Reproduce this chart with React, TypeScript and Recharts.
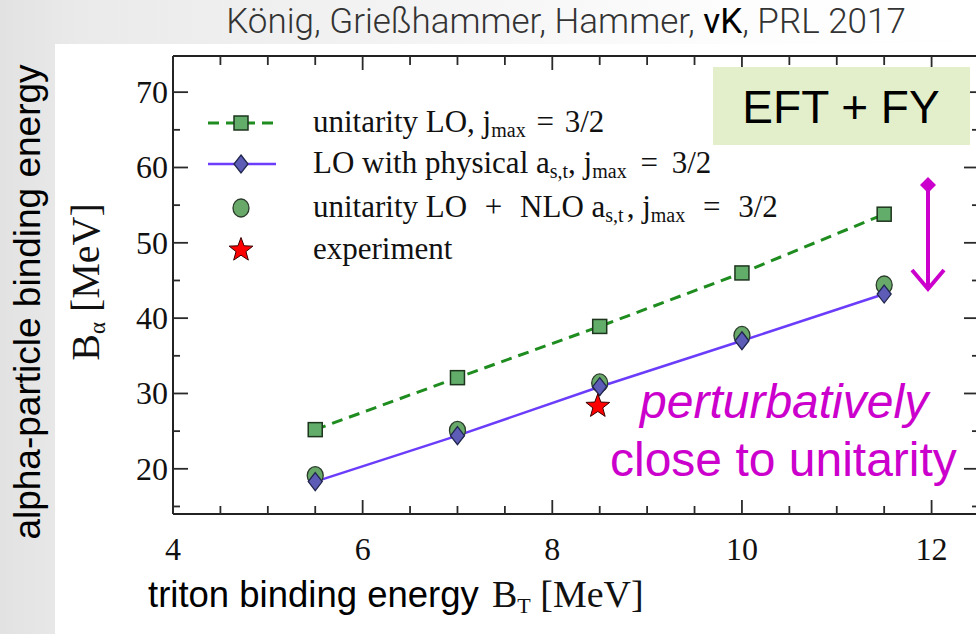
import React from 'react';
import { ComposedChart, Line, XAxis, YAxis } from 'recharts';

// ---- data ----
const tritonEnergies = [5.5, 7, 8.5, 10, 11.5];
const unitarityLO = [25.2, 32.1, 38.9, 46.0, 53.8];
const physicalLO = [18.3, 24.4, 30.9, 37.0, 43.2];
const unitarityNLO = [19.1, 25.1, 31.4, 37.7, 44.4];
const experimentTriton = [8.48];
const experimentAlpha = [28.3];

const xTicks = [4, 4.5, 5, 5.5, 6, 6.5, 7, 7.5, 8, 8.5, 9, 9.5, 10, 10.5, 11, 11.5, 12];
const xMajorTicks = [4, 6, 8, 10, 12];
const yTicks = [15, 20, 25, 30, 35, 40, 45, 50, 55, 60, 65, 70];
const yMajorTicks = [20, 30, 40, 50, 60, 70];

const chartData = tritonEnergies.map((x, i) => ({
  x,
  lo: unitarityLO[i],
  phys: physicalLO[i],
  nlo: unitarityNLO[i],
}));
const starData = experimentTriton.map((x, i) => ({ x, star: experimentAlpha[i] }));

const SERIF = '"Liberation Serif", "Times New Roman", serif';
const SANS = '"Liberation Sans", Arial, sans-serif';
const FRAME = '#222';
const TICK = '#2a2a2a';
const MAGENTA = '#cc00cc';

// ---- marker shapes ----
const starPoints = (cx: number, cy: number, ro: number, ri: number) => {
  const pts: string[] = [];
  for (let k = 0; k < 10; k++) {
    const r = k % 2 === 0 ? ro : ri;
    const a = -Math.PI / 2 + (k * Math.PI) / 5;
    pts.push(`${cx + r * Math.cos(a)},${cy + r * Math.sin(a)}`);
  }
  return pts.join(' ');
};

const Square = ({ cx, cy, s = 14 }: any) => (
  <rect x={cx - s / 2} y={cy - s / 2} width={s} height={s} fill="#62ad6a" stroke="#1d351d" strokeWidth={1.5} />
);
const Diamond = ({ cx, cy }: any) => (
  <polygon points={`${cx},${cy - 9} ${cx + 7},${cy} ${cx},${cy + 9} ${cx - 7},${cy}`} fill="#5d5db8" stroke="#20264d" strokeWidth={1.3} />
);
const Circ = ({ cx, cy }: any) => (
  <ellipse cx={cx} cy={cy} rx={8} ry={9} fill="#68a96a" stroke="#2b3b2b" strokeWidth={1.3} />
);
const Star = ({ cx, cy }: any) => (
  <polygon points={starPoints(cx, cy, 12.5, 5.2)} fill="#ff0000" stroke="#3a0000" strokeWidth={1} />
);

const mkDot = (Comp: any, name: string) => (props: any) => {
  const { cx, cy, index } = props;
  if (cx == null || cy == null) return <g key={`${name}-${index}`} />;
  return <g key={`${name}-${index}`}><Comp cx={cx} cy={cy} /></g>;
};

// ---- ticks (drawn inward, like the original frame) ----
const BottomTick = (props: any) => {
  const { x, y, payload } = props;
  const v = payload.value;
  const major = xMajorTicks.includes(v);
  return (
    <g>
      <path d={`M${x},${y}L${x},${y - (major ? 14 : 8)}`} stroke={TICK} strokeWidth={1.8} fill="none" />
      {major && (
        <text x={x} y={y + 46} textAnchor="middle" fontFamily={SERIF} fontSize={32} fill="#111">
          {v}
        </text>
      )}
    </g>
  );
};
const TopTick = (props: any) => {
  const { x, y, payload } = props;
  const major = xMajorTicks.includes(payload.value);
  return <path d={`M${x},${y}L${x},${y + (major ? 14 : 9)}`} stroke={TICK} strokeWidth={1.8} fill="none" />;
};
const LeftTick = (props: any) => {
  const { x, y, payload } = props;
  const v = payload.value;
  const major = yMajorTicks.includes(v);
  return (
    <g>
      <path d={`M${x},${y}L${x + (major ? 15 : 7)},${y}`} stroke={TICK} strokeWidth={1.8} fill="none" />
      {major && (
        <text x={x - 5} y={y + 11} textAnchor="end" fontFamily={SERIF} fontSize={32} fill="#111">
          {v}
        </text>
      )}
    </g>
  );
};
const RightTick = (props: any) => {
  const { x, y, payload } = props;
  const major = yMajorTicks.includes(payload.value);
  return <path d={`M${x},${y}L${x - (major ? 15 : 7)},${y}`} stroke={TICK} strokeWidth={1.8} fill="none" />;
};

const SUB = { fontSize: 20 };
const LEG_FS = 31;

export default function App() {
  return (
    <div
      style={{
        position: 'absolute',
        left: 0,
        top: 0,
        width: 976,
        height: 634,
        overflow: 'hidden',
        background: 'linear-gradient(to right, #e2e2e2 0%, #eaeaea 8%, #f3f3f3 40%, #fdfdfd 75%, #ffffff 100%)',
      }}
    >
      <div style={{ position: 'absolute', left: 55, top: 44, right: 0, bottom: 0, background: '#ffffff' }} />
      <div style={{ position: 'absolute', left: 0, top: 0 }}>
        <ComposedChart
          width={990}
          height={634}
          data={chartData}
          margin={{ top: 46, right: 1, bottom: 60, left: 113 }}
        >
          <XAxis
            dataKey="x"
            type="number"
            domain={[4, 12.5]}
            ticks={xTicks}
            interval={0}
            allowDataOverflow
            height={60}
            tickSize={0}
            tickMargin={0}
            tickLine={false}
            axisLine={{ stroke: FRAME, strokeWidth: 2 }}
            tick={<BottomTick />}
          />
          <XAxis
            xAxisId="top"
            orientation="top"
            dataKey="x"
            type="number"
            domain={[4, 12.5]}
            ticks={xTicks}
            interval={0}
            allowDataOverflow
            height={10}
            tickSize={0}
            tickMargin={0}
            tickLine={false}
            axisLine={{ stroke: FRAME, strokeWidth: 2 }}
            tick={<TopTick />}
          />
          <YAxis
            type="number"
            domain={[14, 74.8]}
            ticks={yTicks}
            interval={0}
            allowDataOverflow
            width={60}
            tickSize={0}
            tickMargin={0}
            tickLine={false}
            axisLine={{ stroke: FRAME, strokeWidth: 2 }}
            tick={<LeftTick />}
          />
          <YAxis
            yAxisId="right"
            orientation="right"
            type="number"
            domain={[14, 74.8]}
            ticks={yTicks}
            interval={0}
            allowDataOverflow
            width={10}
            tickSize={0}
            tickMargin={0}
            tickLine={false}
            axisLine={{ stroke: FRAME, strokeWidth: 2 }}
            tick={<RightTick />}
          />
          <Line
            dataKey="lo"
            stroke="#1e8c1e"
            strokeWidth={3}
            strokeDasharray="11 7"
            dot={mkDot(Square, 'sq')}
            activeDot={false}
            isAnimationActive={false}
            legendType="none"
          />
          <Line
            dataKey="nlo"
            stroke="none"
            dot={mkDot(Circ, 'ci')}
            activeDot={false}
            isAnimationActive={false}
            legendType="none"
          />
          <Line
            dataKey="phys"
            stroke="#6b3dfa"
            strokeWidth={2.5}
            dot={mkDot(Diamond, 'di')}
            activeDot={false}
            isAnimationActive={false}
            legendType="none"
          />
          <Line
            data={starData}
            dataKey="star"
            stroke="none"
            dot={mkDot(Star, 'st')}
            activeDot={false}
            isAnimationActive={false}
            legendType="none"
          />
        </ComposedChart>
      </div>
      <svg
        width={976}
        height={634}
        style={{ position: 'absolute', left: 0, top: 0, pointerEvents: 'none' }}
      >
        {/* title */}
        <text x={566} y={33} textAnchor="middle" fontFamily='Roboto, "Liberation Sans", sans-serif' fontWeight={300} fontSize={35} fill="#333">
          König, Grießhammer, Hammer, <tspan fill="#000" fontWeight={400}>vK</tspan>, PRL 2017
        </text>
        {/* outer y label */}
        <text transform="translate(40,302) rotate(-90)" textAnchor="middle" fontFamily={SANS} fontSize={37} fill="#000">
          alpha-particle binding energy
        </text>
        {/* inner y label */}
        <text transform="translate(99,282) rotate(-90)" textAnchor="middle" fontFamily={SERIF} fontSize={40} fill="#111">
          B<tspan fontSize={23} dy={6}>α</tspan><tspan dy={-6}> [MeV]</tspan>
        </text>
        {/* x labels */}
        <text x={148} y={607} fontFamily={SANS} fontSize={36.5} fill="#000">
          triton binding energy
        </text>
        <text x={492} y={607} fontFamily={SERIF} fontSize={38} fill="#111">
          B<tspan fontSize={22} dy={6}>T</tspan><tspan dy={-6}> [MeV]</tspan>
        </text>

        {/* legend */}
        <line x1={208} x2={274} y1={123} y2={123} stroke="#1e8c1e" strokeWidth={3} strokeDasharray="11 7" />
        <Square cx={241} cy={123} />
        <text x={313} y={132} fontFamily={SERIF} fontSize={LEG_FS} fill="#111">
          unitarity LO, j<tspan {...SUB} dy={5}>max</tspan><tspan dy={-5} dx={3}> = </tspan><tspan dx={3}>3/2</tspan>
        </text>
        <line x1={208} x2={276} y1={164} y2={164} stroke="#6b3dfa" strokeWidth={2.5} />
        <Diamond cx={241} cy={164} />
        <text x={313} y={173} fontFamily={SERIF} fontSize={LEG_FS} fill="#111">
          LO with physical a<tspan {...SUB} dy={5}>s,t</tspan><tspan dy={-5}>, j</tspan><tspan {...SUB} dy={5}>max</tspan><tspan dy={-5} dx={6}> = </tspan><tspan dx={6}>3/2</tspan>
        </text>
        <Circ cx={241} cy={208} />
        <text x={313} y={217} fontFamily={SERIF} fontSize={LEG_FS} fill="#111">
          unitarity LO<tspan dx={10}> + </tspan><tspan dx={10}>NLO a</tspan><tspan {...SUB} dy={5}>s,t</tspan><tspan dy={-5} dx={3}>, j</tspan><tspan {...SUB} dy={5}>max</tspan><tspan dy={-5} dx={10}> = </tspan><tspan dx={10}>3/2</tspan>
        </text>
        <Star cx={241} cy={250} />
        <text x={313} y={259} fontFamily={SERIF} fontSize={LEG_FS} fill="#111">
          experiment
        </text>

        {/* EFT + FY box */}
        <rect x={713} y={67} width={257} height={78} fill="#e2efca" />
        <text x={841} y={123} textAnchor="middle" fontFamily={SANS} fontSize={46} fill="#000">
          EFT + FY
        </text>

        {/* arrow */}
        <line x1={928} x2={928} y1={185} y2={288} stroke={MAGENTA} strokeWidth={4} />
        <polygon points="928,177 936,185 928,193 920,185" fill={MAGENTA} />
        <polyline points="912,270 928,289 944,270" fill="none" stroke={MAGENTA} strokeWidth={4} strokeLinejoin="miter" />

        {/* annotation */}
        <text x={640} y={418} fontFamily={SANS} fontStyle="italic" fontSize={48} fill={MAGENTA}>
          perturbatively
        </text>
        <text x={610} y={476} fontFamily={SANS} fontSize={48} fill={MAGENTA}>
          close to unitarity
        </text>
      </svg>
    </div>
  );
}
